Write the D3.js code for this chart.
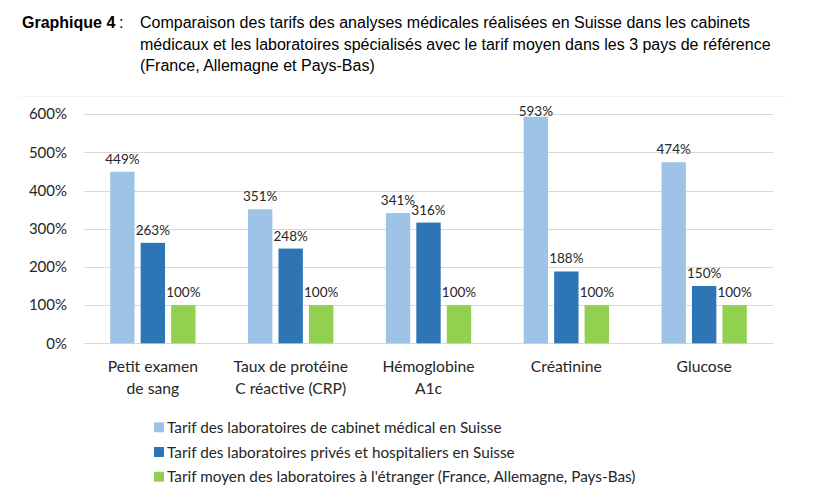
<!DOCTYPE html>
<html>
<head>
<meta charset="utf-8">
<script src="https://cdn.jsdelivr.net/npm/d3@7"></script>
<style>
  body { margin: 0; background: #fff; }
  svg { display: block; }
</style>
</head>
<body>
<svg id="chart" width="821" height="496"></svg>
<script>
// data
var categories = [
  ["Petit examen", "de sang"],
  ["Taux de protéine", "C réactive (CRP)"],
  ["Hémoglobine", "A1c"],
  ["Créatinine"],
  ["Glucose"]
];
var cabinetSuisse = [449, 351, 341, 593, 474];
var privesSuisse = [263, 248, 316, 188, 150];
var moyenEtranger = [100, 100, 100, 100, 100];
var seriesNames = [
  "Tarif des laboratoires de cabinet médical en Suisse",
  "Tarif des laboratoires privés et hospitaliers en Suisse",
  "Tarif moyen des laboratoires à l'étranger (France, Allemagne, Pays-Bas)"
];
var yTicks = [0, 100, 200, 300, 400, 500, 600];

var colors = ["#9DC3E6", "#2E75B6", "#92D050"];
var allSeries = [cabinetSuisse, privesSuisse, moyenEtranger];
var textFont = "Lato, 'Open Sans', sans-serif";

var svg = d3.select("#chart");

// title block
var title = svg.append("g").attr("font-family", "'Liberation Sans', Arial, sans-serif")
  .attr("font-size", 16).attr("fill", "#000");
title.append("text").attr("x", 22).attr("y", 28)
  .attr("font-weight", "bold").text("Graphique 4");
title.append("text").attr("x", 119).attr("y", 28).text(":");
var titleLines = [
  "Comparaison des tarifs des analyses médicales réalisées en Suisse dans les cabinets",
  "médicaux et les laboratoires spécialisés avec le tarif moyen dans les 3 pays de référence",
  "(France, Allemagne et Pays-Bas)"
];
title.selectAll("text.line").data(titleLines).enter().append("text")
  .attr("class", "line")
  .attr("x", 140)
  .attr("y", function (d, i) { return 28 + i * 21.5; })
  .text(function (d) { return d; });

// faint top edge of the chart area
svg.append("line").attr("x1", 20).attr("x2", 787).attr("y1", 96.5).attr("y2", 96.5)
  .attr("stroke", "#F4F4F4");

var plotLeft = 84, plotRight = 773, plotTop = 114.1, plotBottom = 343.3;

var y = d3.scaleLinear().domain([0, 600]).range([plotBottom, plotTop]);
var x0 = d3.scaleBand().domain(d3.range(categories.length))
  .range([plotLeft, plotRight]).paddingInner(0.381).paddingOuter(0.19);
var x1 = d3.scaleBand().domain(d3.range(allSeries.length))
  .range([0, x0.bandwidth()]).paddingInner(0.2);

// gridlines
svg.append("g").selectAll("line").data(yTicks).enter().append("line")
  .attr("x1", plotLeft).attr("x2", plotRight)
  .attr("y1", function (d) { return Math.round(y(d)) + 0.5; })
  .attr("y2", function (d) { return Math.round(y(d)) + 0.5; })
  .attr("stroke", "#D9D9D9").attr("stroke-width", 1.2);

// y axis labels
var yAxis = d3.axisLeft(y).tickValues(yTicks).tickSize(0).tickPadding(0)
  .tickFormat(function (d) { return d + "%"; });
var yg = svg.append("g").attr("transform", "translate(67,0)").call(yAxis);
yg.select(".domain").remove();
yg.selectAll("text").attr("font-family", textFont).attr("font-size", 15).attr("fill", "#262626");

// bars
var groups = svg.append("g").selectAll("g").data(allSeries).enter().append("g")
  .attr("fill", function (d, i) { return colors[i]; });
groups.each(function (vals, si) {
  var g = d3.select(this);
  g.selectAll("rect").data(vals).enter().append("rect")
    .attr("x", function (d, ci) { return x0(ci) + x1(si); })
    .attr("y", function (d) { return y(d); })
    .attr("width", x1.bandwidth())
    .attr("height", function (d) { return y(0) - y(d); });
  g.selectAll("text").data(vals).enter().append("text")
    .attr("x", function (d, ci) { return x0(ci) + x1(si) + x1.bandwidth() / 2; })
    .attr("y", function (d) { return Math.max(y(d) - 8, y(600) + 1.5); })
    .attr("text-anchor", "middle")
    .attr("font-family", textFont).attr("font-size", 13.5).attr("fill", "#262626")
    .text(function (d) { return d + "%"; });
});

// category labels
var cat = svg.append("g").selectAll("text").data(categories).enter().append("text")
  .attr("text-anchor", "middle")
  .attr("font-family", textFont).attr("font-size", 15.7).attr("fill", "#262626")
  .attr("transform", function (d, i) { return "translate(" + (x0(i) + x0.bandwidth() / 2) + ",372)"; });
cat.selectAll("tspan").data(function (d) { return d; }).enter().append("tspan")
  .attr("x", 0).attr("dy", function (d, i) { return i === 0 ? 0 : 21.5; })
  .text(function (d) { return d; });

// legend
var legend = svg.append("g").selectAll("g").data(seriesNames).enter().append("g")
  .attr("transform", function (d, i) { return "translate(154," + (427.3 + i * 24.7) + ")"; });
legend.append("rect").attr("x", 0).attr("y", -5).attr("width", 10).attr("height", 10)
  .attr("fill", function (d, i) { return colors[i]; });
legend.append("text").attr("x", 13).attr("y", 5.5)
  .attr("font-family", textFont).attr("font-size", 15.3).attr("fill", "#262626")
  .text(function (d) { return d; });
</script>
</body>
</html>
